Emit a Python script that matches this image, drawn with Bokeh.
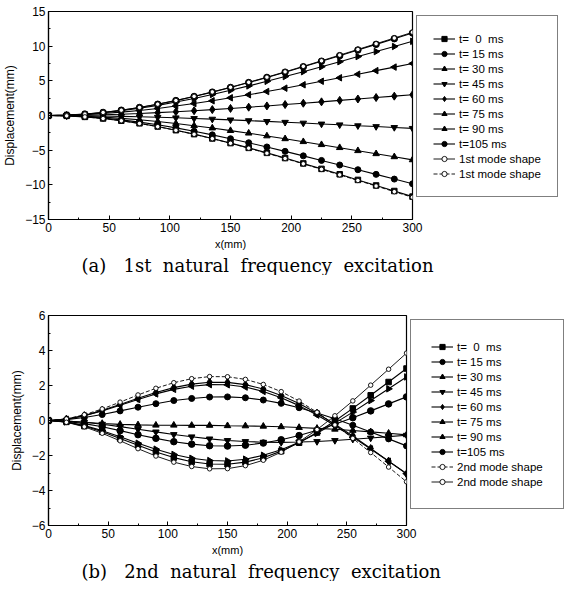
import math
from bokeh.plotting import figure
from bokeh.models import Legend, LegendItem, Title, FixedTicker, Range1d
from bokeh.layouts import column
from bokeh.embed import file_html
from bokeh.resources import INLINE

# ---------------- data ----------------
x_mm = [0, 15, 30, 45, 60, 75, 90, 105, 120, 135, 150, 165, 180, 195, 210, 225, 240, 255, 270, 285, 300]

t_labels = ["t=\u00a0\u00a00\u00a0\u00a0ms", "t=\u00a015\u00a0ms", "t=\u00a030\u00a0ms", "t=\u00a045\u00a0ms",
            "t=\u00a060\u00a0ms", "t=\u00a075\u00a0ms", "t=\u00a090\u00a0ms", "t=105\u00a0ms"]

x_ticks = [0, 50, 100, 150, 200, 250, 300]
x_minor = [25, 75, 125, 175, 225, 275]
ya_ticks = [-15, -10, -5, 0, 5, 10, 15]
ya_minor = [-12.5, -7.5, -2.5, 2.5, 7.5, 12.5]
yb_ticks = [-6, -4, -2, 0, 2, 4, 6]
yb_minor = [-5, -3, -1, 1, 3, 5]

# (a) 1st natural frequency excitation
a_t0 = [0, -0.05, -0.20, -0.43, -0.75, -1.13, -1.59, -2.12, -2.69, -3.31, -3.98, -4.67, -5.39, -6.14, -6.91, -7.70, -8.48, -9.29, -10.09, -10.89, -11.70]
a_t15 = [0, -0.04, -0.17, -0.36, -0.63, -0.96, -1.34, -1.78, -2.27, -2.79, -3.35, -3.93, -4.54, -5.17, -5.82, -6.48, -7.14, -7.82, -8.49, -9.17, -9.85]
a_t30 = [0, -0.03, -0.11, -0.24, -0.41, -0.62, -0.87, -1.16, -1.47, -1.81, -2.18, -2.55, -2.95, -3.36, -3.78, -4.21, -4.64, -5.08, -5.52, -5.96, -6.40]
a_t45 = [0, -0.01, -0.03, -0.07, -0.12, -0.18, -0.25, -0.33, -0.43, -0.52, -0.63, -0.74, -0.85, -0.97, -1.09, -1.22, -1.34, -1.47, -1.59, -1.72, -1.85]
a_t60 = [0, 0.01, 0.05, 0.11, 0.19, 0.29, 0.41, 0.54, 0.69, 0.85, 1.02, 1.20, 1.38, 1.58, 1.77, 1.97, 2.18, 2.38, 2.59, 2.79, 3.00]
a_t75 = [0, 0.03, 0.13, 0.28, 0.48, 0.73, 1.02, 1.36, 1.72, 2.12, 2.55, 2.99, 3.46, 3.94, 4.43, 4.94, 5.44, 5.95, 6.47, 6.98, 7.50]
a_t90 = [0, 0.05, 0.18, 0.40, 0.68, 1.04, 1.46, 1.94, 2.46, 3.03, 3.64, 4.27, 4.93, 5.62, 6.32, 7.04, 7.76, 8.50, 9.22, 9.96, 10.70]
a_t105 = [0, 0.05, 0.20, 0.44, 0.76, 1.15, 1.62, 2.15, 2.74, 3.37, 4.04, 4.75, 5.49, 6.25, 7.03, 7.83, 8.63, 9.45, 10.26, 11.08, 11.90]
a_mode_up = [0, 0.05, 0.20, 0.44, 0.77, 1.16, 1.64, 2.17, 2.76, 3.40, 4.07, 4.79, 5.53, 6.30, 7.09, 7.89, 8.71, 9.53, 10.35, 11.17, 12.00]
a_mode_dn = [0, -0.05, -0.20, -0.44, -0.76, -1.15, -1.61, -2.14, -2.71, -3.34, -4.01, -4.71, -5.44, -6.20, -6.97, -7.77, -8.56, -9.37, -10.17, -10.99, -11.80]

# (b) 2nd natural frequency excitation
b_t0 = [0, -0.08, -0.32, -0.64, -1.03, -1.42, -1.80, -2.12, -2.36, -2.49, -2.50, -2.38, -2.13, -1.75, -1.27, -0.69, -0.03, 0.69, 1.44, 2.20, 2.97]
b_t15 = [0, 0.05, 0.17, 0.34, 0.55, 0.76, 0.96, 1.14, 1.26, 1.34, 1.35, 1.30, 1.17, 0.98, 0.73, 0.43, 0.10, -0.27, -0.66, -1.05, -1.45]
b_t30 = [0, -0.03, -0.10, -0.17, -0.22, -0.25, -0.27, -0.27, -0.28, -0.28, -0.30, -0.31, -0.33, -0.36, -0.40, -0.45, -0.50, -0.57, -0.65, -0.73, -0.82]
b_t45 = [0, -0.03, -0.10, -0.21, -0.35, -0.50, -0.65, -0.80, -0.93, -1.05, -1.14, -1.20, -1.24, -1.25, -1.23, -1.20, -1.14, -1.07, -1.00, -0.92, -0.84]
b_t60 = [0, 0.08, 0.28, 0.58, 0.92, 1.27, 1.60, 1.88, 2.08, 2.19, 2.18, 2.05, 1.80, 1.43, 0.97, 0.41, -0.21, -0.89, -1.60, -2.32, -3.05]
b_t75 = [0, 0.07, 0.27, 0.55, 0.87, 1.20, 1.52, 1.78, 1.96, 2.05, 2.04, 1.91, 1.66, 1.30, 0.85, 0.31, -0.29, -0.95, -1.63, -2.33, -3.03]
b_t90 = [0, -0.08, -0.29, -0.58, -0.93, -1.30, -1.64, -1.94, -2.16, -2.29, -2.31, -2.21, -1.99, -1.67, -1.24, -0.73, -0.15, 0.48, 1.14, 1.81, 2.49]
b_t105 = [0, -0.05, -0.18, -0.36, -0.58, -0.81, -1.02, -1.21, -1.35, -1.44, -1.46, -1.41, -1.29, -1.10, -0.86, -0.56, -0.21, 0.16, 0.55, 0.95, 1.35]
b_mode_a = [0, 0.09, 0.33, 0.66, 1.05, 1.46, 1.84, 2.16, 2.39, 2.51, 2.50, 2.35, 2.06, 1.65, 1.11, 0.47, -0.25, -1.02, -1.83, -2.66, -3.50]
b_mode_b = [0, -0.10, -0.36, -0.73, -1.16, -1.61, -2.03, -2.38, -2.63, -2.76, -2.75, -2.58, -2.27, -1.81, -1.22, -0.52, 0.27, 1.12, 2.02, 2.93, 3.85]

cap_a = "(a)\u00a0\u00a0\u00a01st\u00a0\u00a0natural\u00a0\u00a0frequency\u00a0\u00a0excitation"
cap_b = "(b)\u00a0\u00a0\u00a02nd\u00a0\u00a0natural\u00a0\u00a0frequency\u00a0\u00a0excitation"

# marker styles for t = 0 ... 105 ms
MARKERS = [("square", 0.0, 5.5), ("circle", 0.0, 6), ("triangle", 0.0, 6.5), ("inverted_triangle", 0.0, 6.5),
           ("diamond", 0.0, 8), ("triangle", math.pi / 2, 6.5), ("triangle", -math.pi / 2, 6.5), ("circle", 0.0, 6.5)]

FONT = "Liberation Sans"


def make_fig(series, modes, mode_labels, mode_dashes, yr, yt, ym, caption, fw, fh, top, pad):
    p = figure(frame_width=fw, frame_height=fh, output_backend="svg", toolbar_location=None,
               x_range=Range1d(0, 300), y_range=Range1d(*yr),
               min_border_left=41, min_border_right=0, min_border_top=top, min_border_bottom=0)
    p.xgrid.visible = False
    p.ygrid.visible = False
    p.outline_line_color = "black"
    p.outline_line_width = 1.2
    p.background_fill_color = "white"
    p.border_fill_color = "white"
    p.xaxis.ticker = FixedTicker(ticks=x_ticks, minor_ticks=x_minor)
    p.yaxis.ticker = FixedTicker(ticks=yt, minor_ticks=ym)
    p.xaxis.axis_label = "x(mm)"
    p.yaxis.axis_label = "Displacement(mm)"
    for ax in (p.xaxis[0], p.yaxis[0]):
        ax.axis_line_color = "black"
        ax.axis_line_width = 1.2
        ax.major_tick_in = 4
        ax.major_tick_out = 0
        ax.minor_tick_in = 2
        ax.minor_tick_out = 0
        ax.major_tick_line_color = "black"
        ax.minor_tick_line_color = "black"
        ax.major_label_text_font = FONT
        ax.major_label_text_font_size = "12px"
        ax.major_label_text_color = "black"
        ax.major_label_standoff = 3
        ax.axis_label_text_font = FONT
        ax.axis_label_text_font_style = "normal"
        ax.axis_label_text_color = "black"
    p.xaxis.axis_label_text_font_size = "11px"
    p.yaxis.axis_label_text_font_size = "12px"
    p.xaxis.axis_label_standoff = 3
    p.yaxis.axis_label_standoff = 5

    items = []
    for i, ys in enumerate(series):
        mk, ang, sz = MARKERS[i]
        rl = p.line(x_mm, ys, line_color="black", line_width=1.1)
        rs = p.scatter(x_mm, ys, marker=mk, angle=ang, size=sz, fill_color="black", line_color="black")
        items.append(LegendItem(label=t_labels[i], renderers=[rl, rs]))
    for ys, lab, dash in zip(modes, mode_labels, mode_dashes):
        rl = p.line(x_mm, ys, line_color="black", line_width=0.9, line_dash=dash)
        rs = p.scatter(x_mm, ys, marker="circle", size=4.5, fill_color="white", line_color="black", line_width=0.9)
        items.append(LegendItem(label=lab, renderers=[rl, rs]))

    leg = Legend(items=items, location="top_left", padding=pad, spacing=2, label_height=13, glyph_height=13,
                 glyph_width=22, label_standoff=4, label_text_font=FONT, label_text_font_size="11.5px",
                 label_text_color="black", border_line_color="black", border_line_width=1, margin=4,
                 background_fill_color="white", background_fill_alpha=1)
    p.add_layout(leg, "right")

    cap = Title(text=caption, align="left", offset=33, text_font="DejaVu Serif", text_font_size="18px",
                text_font_style="normal", text_color="black", standoff=0)
    p.add_layout(cap, "below")
    return p


pa = make_fig([a_t0, a_t15, a_t30, a_t45, a_t60, a_t75, a_t90, a_t105],
              [a_mode_up, a_mode_dn], ["1st mode shape", "1st mode shape"], ["solid", "4 2"],
              (-15, 15), ya_ticks, ya_minor, cap_a, 364, 208, 11, 16)
pb = make_fig([b_t0, b_t15, b_t30, b_t45, b_t60, b_t75, b_t90, b_t105],
              [b_mode_a, b_mode_b], ["2nd mode shape", "2nd mode shape"], ["4 2", "solid"],
              (-6, 6), yb_ticks, yb_minor, cap_b, 358, 210, 40, 20)

layout = column(pa, pb, spacing=0)
open("out.html", "w").write(file_html(layout, INLINE))
